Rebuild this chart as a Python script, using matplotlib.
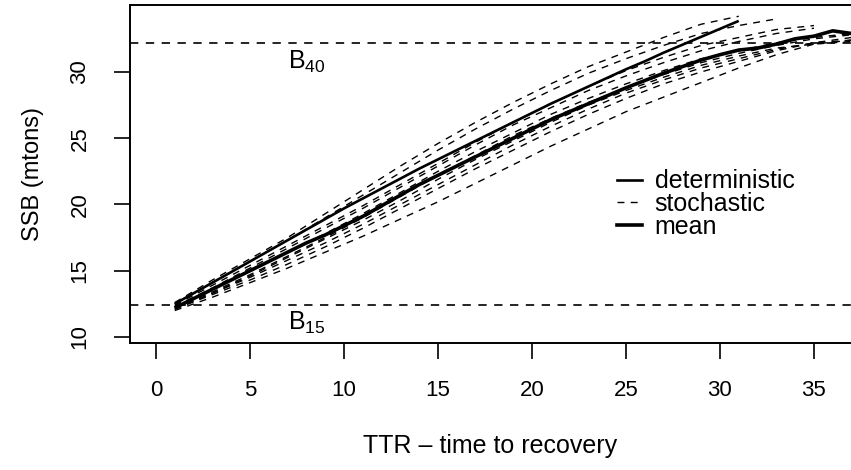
import matplotlib
matplotlib.use("Agg")
import matplotlib.pyplot as plt
from matplotlib.lines import Line2D

plt.rcParams['font.family'] = ['Liberation Sans', 'DejaVu Sans']

# ---- data ----
det_years = list(range(1, 32))
det_ssb = [12.5, 13.3, 14.1, 14.9, 15.7, 16.5, 17.3, 18.1, 18.9, 19.7,
           20.45, 21.2, 21.95, 22.7, 23.4, 24.1, 24.8, 25.5, 26.2, 26.9,
           27.6, 28.25, 28.9, 29.55, 30.2, 30.8, 31.45, 32.05, 32.65, 33.25, 33.85]

mean_years = list(range(1, 38))
mean_ssb = [12.2, 12.9, 13.6, 14.3, 15.0, 15.7, 16.4, 17.1, 17.7, 18.4,
            19.1, 19.9, 20.7, 21.5, 22.2, 22.9, 23.6, 24.3, 25.0, 25.7,
            26.4, 27.0, 27.6, 28.2, 28.8, 29.35, 29.9, 30.4, 30.9, 31.3,
            31.65, 31.8, 32.1, 32.5, 32.7, 33.1, 32.9]

stoch_years = [1, 3, 5, 7, 9, 11, 13, 15, 17, 19, 21, 23, 25, 27, 29, 31, 33, 35, 37]
stoch_a = [12.6, 14.3, 15.9, 17.5, 19.3, 21.1, 22.9, 24.6, 26.2, 27.7, 29.1, 30.4, 31.5, 32.6, 33.6, 34.2]
stoch_b = [12.5, 14.1, 15.7, 17.3, 19.0, 20.7, 22.4, 24.1, 25.7, 27.2, 28.6, 29.9, 31.0, 32.0, 32.9, 33.5, 34.0]
stoch_c = [12.4, 13.9, 15.4, 16.9, 18.4, 19.9, 21.5, 23.1, 24.7, 26.2, 27.6, 28.9, 30.1, 31.1, 32.0, 32.6, 33.2, 33.5]
stoch_d = [12.3, 13.6, 15.0, 16.4, 17.8, 19.3, 20.9, 22.5, 24.0, 25.4, 26.8, 28.0, 29.1, 30.1, 31.0, 31.6, 32.2, 32.6, 32.9]
stoch_e = [12.2, 13.4, 14.7, 16.1, 17.5, 19.0, 20.6, 22.2, 23.7, 25.2, 26.5, 27.7, 28.8, 29.8, 30.7, 31.4, 32.0, 32.5, 32.8]
stoch_f = [12.2, 13.3, 14.5, 15.8, 17.1, 18.5, 20.0, 21.5, 23.0, 24.5, 25.9, 27.2, 28.4, 29.4, 30.3, 31.0, 31.7, 32.2, 32.4]
stoch_g = [12.0, 13.0, 14.1, 15.2, 16.4, 17.6, 18.9, 20.2, 21.6, 23.0, 24.4, 25.7, 27.0, 28.1, 29.2, 30.3, 31.3, 32.1, 32.4]
stoch_h = [12.1, 13.2, 14.3, 15.5, 16.8, 18.2, 19.7, 21.2, 22.7, 24.1, 25.5, 26.8, 28.0, 29.1, 30.0, 30.8, 31.6, 32.2, 32.6]
stoch_i = [12.3, 13.7, 15.2, 16.7, 18.2, 19.7, 21.3, 22.9, 24.5, 26.0, 27.3, 28.6, 29.7, 30.7, 31.6, 32.3, 32.9, 33.3]
stoch_j = [12.1, 13.3, 14.6, 16.0, 17.4, 18.8, 20.3, 21.9, 23.4, 24.8, 26.2, 27.5, 28.6, 29.6, 30.5, 31.2, 31.8, 32.1, 32.3]
stoch_series = [stoch_a, stoch_b, stoch_c, stoch_d, stoch_e,
                stoch_f, stoch_g, stoch_h, stoch_i, stoch_j]

b40 = 32.2
b15 = 12.4

x_ticks = [0, 5, 10, 15, 20, 25, 30, 35]
y_ticks = [10, 15, 20, 25, 30]

# ---- figure ----
W, H = 851, 470
fig = plt.figure(figsize=(W / 100, H / 100), dpi=100)
ax = fig.add_axes([130 / W, 127 / H, 721 / W, 338 / H])

dash = (5, 4.5)
for s in stoch_series:
    ax.plot(stoch_years[:len(s)], s, color='black', lw=1.0,
            linestyle=(0, dash))
ax.plot(det_years, det_ssb, color='black', lw=1.9, solid_capstyle='butt')
ax.plot(mean_years, mean_ssb, color='black', lw=2.6, solid_capstyle='butt')

ax.axhline(b40, color='black', lw=1.2, linestyle=(0, (5, 4.5)))
ax.axhline(b15, color='black', lw=1.2, linestyle=(0, (5, 4.5)))
ax.text(8.0, 30.75, r'$\mathregular{B_{40}}$', fontsize=18, ha='center', va='center')
ax.text(8.0, 11.1, r'$\mathregular{B_{15}}$', fontsize=18, ha='center', va='center')

ax.set_xlim(-1.38, 36.97)
ax.set_ylim(9.55, 35.05)
ax.set_xticks(x_ticks)
ax.set_yticks(y_ticks)
ax.tick_params(axis='both', direction='out', length=11.5, width=1.2,
               labelsize=16, color='black')
ax.tick_params(axis='x', pad=15)
ax.tick_params(axis='y', pad=17)
for lab in ax.get_yticklabels():
    lab.set_rotation(90)
    lab.set_va('center')
for side in ['left', 'bottom', 'top']:
    ax.spines[side].set_linewidth(1.4)
ax.spines['right'].set_visible(False)

ax.set_xlabel('TTR \u2013 time to recovery', fontsize=18, labelpad=24)
ax.set_ylabel('SSB (mtons)', fontsize=17, labelpad=18)

handles = [Line2D([], [], color='black', lw=1.9),
           Line2D([], [], color='black', lw=1.0, linestyle=(0, dash)),
           Line2D([], [], color='black', lw=2.6)]
ax.legend(handles, ['deterministic', 'stochastic', 'mean'],
          loc='center left', bbox_to_anchor=(617 / W, 1 - 204 / H),
          bbox_transform=fig.transFigure, frameon=False, fontsize=18,
          handlelength=1.0, handletextpad=0.5, labelspacing=-0.05,
          borderpad=0, borderaxespad=0)

fig.savefig('out.png', dpi=100)
